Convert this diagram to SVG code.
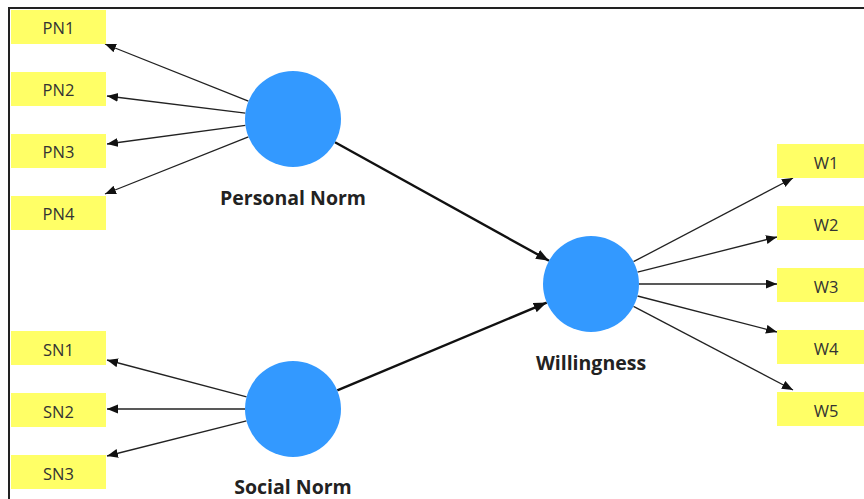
<svg xmlns="http://www.w3.org/2000/svg" width="864" height="499" viewBox="0 0 864 499">
  <style>
    .ind rect { fill: #FFFF66; }
    .ind text { font-family: "Open Sans", "Noto Sans", sans-serif; font-size: 16.5px; fill: #333; text-anchor: middle; }
    .lat circle { fill: #3399FF; }
    .lat text { font-family: "Open Sans", "Noto Sans", sans-serif; font-size: 19.5px; font-weight: bold; fill: #222; text-anchor: middle; }
    .load { stroke: #222; stroke-width: 1.3; fill: none; marker-end: url(#tip); }
    .path { stroke: #111; stroke-width: 2.4; fill: none; marker-end: url(#tipBig); }
  </style>
  <defs>
    <marker id="tip" markerUnits="userSpaceOnUse" markerWidth="12" markerHeight="10" refX="11" refY="4.5" orient="auto">
      <path d="M0,0 L11,4.5 L0,9 z" fill="#111"/>
    </marker>
    <marker id="tipBig" markerUnits="userSpaceOnUse" markerWidth="14" markerHeight="12" refX="13" refY="5" orient="auto">
      <path d="M0,0 L13,5 L0,10 z" fill="#111"/>
    </marker>
  </defs>

  <rect width="864" height="499" fill="#fff"/>
  <!-- frame -->
  <path d="M9,499 V8 H864" fill="none" stroke="#222" stroke-width="2"/>

  <!-- connectors -->
  <g id="connectors">
    <line class="load" x1="248.4" y1="101.2" x2="105" y2="44"/>
    <line class="load" x1="245.4" y1="113.1" x2="107" y2="96"/>
    <line class="load" x1="245.4" y1="125.4" x2="107" y2="144"/>
    <line class="load" x1="248.4" y1="136.8" x2="105" y2="194"/>

    <line class="load" x1="246.6" y1="396.8" x2="107" y2="360"/>
    <line class="load" x1="245" y1="409" x2="107" y2="409"/>
    <line class="load" x1="246.5" y1="420.8" x2="107" y2="456"/>

    <line class="load" x1="633.5" y1="261.7" x2="793" y2="178"/>
    <line class="load" x1="637.5" y1="272.2" x2="777" y2="237"/>
    <line class="load" x1="639" y1="284" x2="777" y2="284"/>
    <line class="load" x1="637.5" y1="296" x2="777" y2="332"/>
    <line class="load" x1="633.5" y1="306.3" x2="793" y2="390"/>

    <line class="path" x1="335" y1="142.3" x2="549" y2="260.7"/>
    <line class="path" x1="337.3" y1="390.4" x2="546.7" y2="302.6"/>
  </g>

  <!-- indicators -->
  <g id="PN1" class="ind"><rect x="11" y="10" width="95" height="34"/><text x="58.5" y="34">PN1</text></g>
  <g id="PN2" class="ind"><rect x="11" y="72" width="95" height="34"/><text x="58.5" y="96">PN2</text></g>
  <g id="PN3" class="ind"><rect x="11" y="134" width="95" height="34"/><text x="58.5" y="158">PN3</text></g>
  <g id="PN4" class="ind"><rect x="11" y="196" width="95" height="34"/><text x="58.5" y="220">PN4</text></g>

  <g id="SN1" class="ind"><rect x="11" y="331" width="95" height="34"/><text x="58.5" y="355.5">SN1</text></g>
  <g id="SN2" class="ind"><rect x="11" y="393" width="95" height="34"/><text x="58.5" y="417.5">SN2</text></g>
  <g id="SN3" class="ind"><rect x="11" y="455" width="95" height="34"/><text x="58.5" y="479.5">SN3</text></g>

  <g id="W1" class="ind"><rect x="777" y="144" width="95" height="34"/><text x="826" y="168.5">W1</text></g>
  <g id="W2" class="ind"><rect x="777" y="206" width="95" height="34"/><text x="826" y="230.5">W2</text></g>
  <g id="W3" class="ind"><rect x="777" y="268" width="95" height="34"/><text x="826" y="292.5">W3</text></g>
  <g id="W4" class="ind"><rect x="777" y="330" width="95" height="34"/><text x="826" y="354.5">W4</text></g>
  <g id="W5" class="ind"><rect x="777" y="392" width="95" height="34"/><text x="826" y="416.5">W5</text></g>

  <!-- latent constructs -->
  <g id="PersonalNorm" class="lat"><circle cx="293" cy="119" r="48"/><text x="293" y="205">Personal Norm</text></g>
  <g id="SocialNorm" class="lat"><circle cx="293" cy="409" r="48"/><text x="293" y="494">Social Norm</text></g>
  <g id="Willingness" class="lat"><circle cx="591" cy="284" r="48"/><text x="591" y="370">Willingness</text></g>
</svg>
